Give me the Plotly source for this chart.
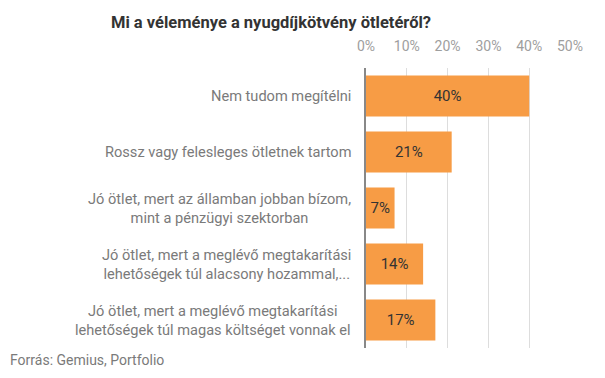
import plotly.graph_objects as go

categories = [
    "Nem tudom megítélni",
    "Rossz vagy felesleges ötletnek tartom",
    "Jó ötlet, mert az államban jobban bízom,<br>mint a pénzügyi szektorban",
    "Jó ötlet, mert a meglévő megtakarítási<br>lehetőségek túl alacsony hozammal,...",
    "Jó ötlet, mert a meglévő megtakarítási<br>lehetőségek túl magas költséget vonnak el",
]
values = [40, 21, 7, 14, 17]
tick_vals = [0, 10, 20, 30, 40, 50]
tick_text = ["0%", "10%", "20%", "30%", "40%", "50%"]
title = "Mi a véleménye a nyugdíjkötvény ötletéről?"
source = "Forrás: Gemius, Portfolio"

W, H = 605, 378
L, R, T, B = 366, 35, 68, 30
pw, ph = W - L - R, H - T - B

fig = go.Figure()
fig.add_trace(go.Bar(
    y=categories, x=values, orientation="h",
    marker=dict(color="#F79C45", line=dict(width=0)),
    text=[f"{v}%" for v in values], textposition="inside",
    insidetextanchor="middle", textangle=0,
    textfont=dict(family="Roboto", size=15, color="#333333"),
    hoverinfo="skip",
))

for c in categories:
    fig.add_annotation(
        x=(353 - L) / pw, xref="paper", y=c, yref="y", text=c, showarrow=False,
        xanchor="right", align="center",
        font=dict(family="Roboto", size=14.6, color="#7A7A7A"),
    )

fig.add_annotation(
    x=(8 - L) / pw, xref="paper", y=(H - B - 360) / ph, yref="paper", text=source,
    showarrow=False, xanchor="left", yanchor="middle",
    font=dict(family="Roboto", size=14, color="#7A7A7A"),
)

fig.update_layout(
    width=W, height=H,
    margin=dict(l=L, r=R, t=T, b=B, autoexpand=False),
    paper_bgcolor="white", plot_bgcolor="white",
    showlegend=False, bargap=0.27,
    title=dict(text=f"<b>{title}</b>", x=271 / W, xanchor="center",
               y=1 - 22 / H, yanchor="middle",
               font=dict(family="Roboto", size=16.5, color="#333333")),
    xaxis=dict(side="top", range=[0, 50], tickmode="array", tickvals=tick_vals,
               ticktext=tick_text,
               showgrid=True, gridcolor="#DDDDDD", gridwidth=1, zeroline=False,
               ticks="outside", ticklen=10, tickcolor="rgba(0,0,0,0)",
               tickfont=dict(family="Roboto", size=14, color="#9E9E9E"), fixedrange=True),
    yaxis=dict(autorange="reversed", showticklabels=False, showline=True,
               linecolor="#888888", linewidth=1.5, showgrid=False, fixedrange=True),
)

fig.write_html("out.html", config={"displayModeBar": False},
               post_script="document.body.style.margin='0';")
